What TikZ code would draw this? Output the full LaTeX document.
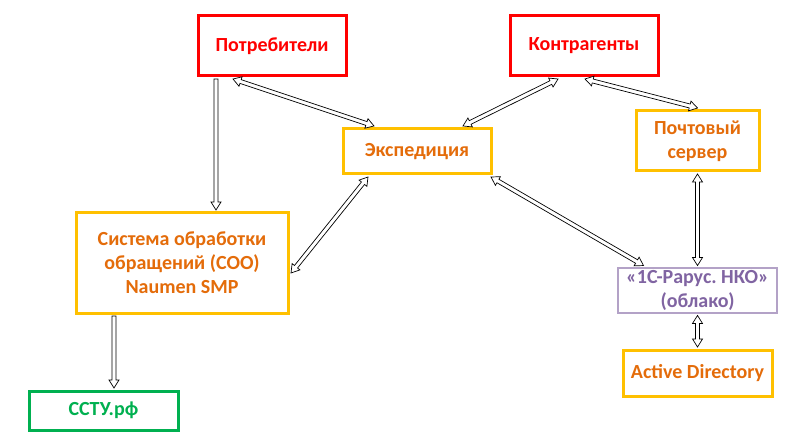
\documentclass[tikz,border=0pt]{standalone}
\usepackage{fontspec}
\setmainfont{Carlito}
\frenchspacing
\usetikzlibrary{calc}
\definecolor{cred}{HTML}{FF0000}
\definecolor{cyel}{HTML}{FFC000}
\definecolor{corg}{HTML}{E46C0A}
\definecolor{cpurb}{HTML}{B3A2C7}
\definecolor{cpurt}{HTML}{8064A2}
\definecolor{cgrn}{HTML}{00B050}
\newcommand\hw{5pt}
\newcommand\sw{2pt}
\newcommand\hl{8pt}
\newcommand\dblarr[2]{%
  \coordinate (qa) at #1; \coordinate (qb) at #2;
  \coordinate (qa1) at ($(qa)!\hl!(qb)$);
  \coordinate (qb1) at ($(qb)!\hl!(qa)$);
  \draw[blockarr] (qa) -- ($(qa1)!\hw!90:(qb)$) -- ($(qa1)!\sw!90:(qb)$)
    -- ($(qb1)!\sw!-90:(qa)$) -- ($(qb1)!\hw!-90:(qa)$) -- (qb)
    -- ($(qb1)!\hw!90:(qa)$) -- ($(qb1)!\sw!90:(qa)$)
    -- ($(qa1)!\sw!-90:(qb)$) -- ($(qa1)!\hw!-90:(qb)$) -- cycle;}
\newcommand\sglarr[2]{%
  \coordinate (qa) at #1; \coordinate (qb) at #2;
  \coordinate (qb1) at ($(qb)!\hl!(qa)$);
  \draw[blockarr] ($(qa)!\sw!90:(qb)$)
    -- ($(qb1)!\sw!-90:(qa)$) -- ($(qb1)!\hw!-90:(qa)$) -- (qb)
    -- ($(qb1)!\hw!90:(qa)$) -- ($(qb1)!\sw!90:(qa)$)
    -- ($(qa)!\sw!-90:(qb)$) -- cycle;}
\tikzset{
  box/.style={draw, line width=3pt, fill=white, inner sep=0pt, align=center,
    font=\fontsize{20}{24}\selectfont\bfseries},
  redbox/.style={box, draw=cred, text=cred},
  yelbox/.style={box, draw=cyel, text=corg},
  purbox/.style={box, draw=cpurb, text=cpurt, line width=2.5pt},
  grnbox/.style={box, draw=cgrn, text=cgrn},
  blockarr/.style={draw=black, fill=white, line width=0.7pt, line join=miter},
}
\begin{document}
\begin{tikzpicture}[x=1pt, y=-1pt]
\useasboundingbox[fill=white] (0,0) rectangle (805,446);
\node[redbox, minimum width=148pt, minimum height=60pt] (potr) at (272,46) {Потребители};
\node[redbox, minimum width=148pt, minimum height=60pt] (kontr) at (584,46) {Контрагенты};
\node[yelbox, minimum width=148pt, minimum height=45pt] (eksp) at (417,151.5) {Экспедиция};
\node[yelbox, minimum width=123pt, minimum height=60pt] (post) at (697.5,141) {Почтовый\\сервер};
\node[purbox, minimum width=159pt, minimum height=45pt] (rarus) at (697.5,290.5) {«1С-Рарус. НКО»\\(облако)};
\node[yelbox, minimum width=149pt, minimum height=46pt] (ad) at (697.5,373) {Active Directory};
\node[yelbox, minimum width=212pt, minimum height=100pt] (soo) at (182,263) {Система обработки\\обращений (СОО)\\Naumen SMP};
\node[grnbox, minimum width=149pt, minimum height=39pt] (sstu) at (103.5,410.5) {ССТУ.рф};
% connectors
\dblarr{([xshift=-39pt,yshift=-1.5pt]potr.south)}{([xshift=-43pt,yshift=1.5pt]eksp.north)}
\dblarr{([xshift=-26pt,yshift=-1.5pt]kontr.south)}{([xshift=46pt,yshift=1.5pt]eksp.north)}
\dblarr{([xshift=1pt,yshift=-1.5pt]kontr.south)}{([yshift=1.5pt]post.north)}
\dblarr{([xshift=-49pt,yshift=-1.5pt]eksp.south)}{([xshift=1.5pt,yshift=-10pt]soo.east)}
\dblarr{([xshift=-1.5pt,yshift=-1.5pt]eksp.south east)}{([xshift=-54pt,yshift=1.2pt]rarus.north)}
\dblarr{([yshift=-1.5pt]post.south)}{([yshift=1.2pt]rarus.north)}
\dblarr{([yshift=-1.2pt]rarus.south)}{([yshift=1.5pt]ad.north)}
\sglarr{([xshift=-56pt,yshift=-1.5pt]potr.south)}{([xshift=34pt,yshift=1.5pt]soo.north)}
\sglarr{([xshift=-68pt,yshift=-1.5pt]soo.south)}{([xshift=10.5pt,yshift=1.5pt]sstu.north)}
\end{tikzpicture}
\end{document}
